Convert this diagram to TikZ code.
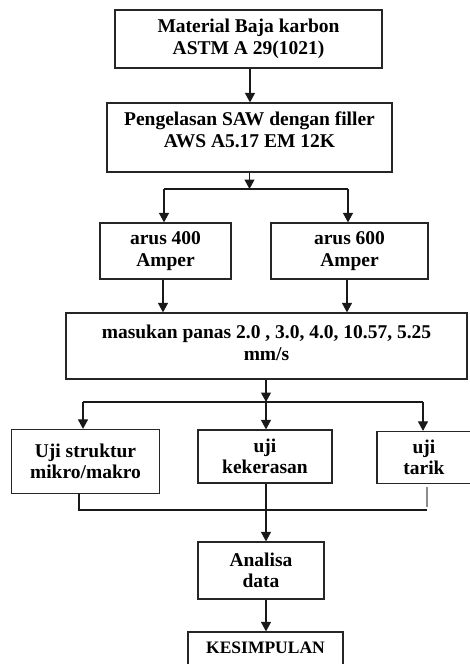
\documentclass[tikz,border=0pt]{standalone}
\usepackage{fontspec}
\setmainfont{Liberation Serif}
\usetikzlibrary{arrows.meta}
\begin{document}
\begin{tikzpicture}[x=1pt,y=-1pt,
  box/.style={draw=black!85,line width=1.2pt,inner sep=0pt,align=center,
    font=\fontsize{19.5}{21.5}\selectfont\bfseries},
  txt/.style={inner sep=0pt,align=center,font=\fontsize{19.5}{21.5}\selectfont\bfseries},
  conn/.style={draw=black!90,line width=1.1pt},
  arr/.style={conn,-{Triangle[length=9.5pt,width=10pt]}}]
\useasboundingbox (0,0) rectangle (470,664);
\clip (0,0) rectangle (470,664);
% boxes
\node[box,minimum width=267,minimum height=58] (b1) at (248.5,39) {Material Baja karbon\\ASTM A 29(1021)};
\node[box,minimum width=285,minimum height=69] (b2) at (249.5,137.5) {};
\node[txt] (t2) at (249.5,130) {Pengelasan SAW dengan filler\\AWS A5.17 EM 12K};
\node[box,minimum width=131,minimum height=56] (a4) at (165.5,251) {arus 400\\Amper};
\node[box,minimum width=157,minimum height=56] (a6) at (349.5,251) {arus 600\\Amper};
\node[box,minimum width=401,minimum height=66] (mp) at (266.5,346) {};
\node[txt] (tmp) at (266.5,343) {masukan panas 2.0 , 3.0, 4.0, 10.57, 5.25\\mm/s};
\node[box,minimum width=148,minimum height=64] (us) at (85.5,461.5) {Uji struktur\\mikro/makro};
\node[box,minimum width=134,minimum height=53] (uk) at (265,456.5) {uji\\kekerasan};
\node[box,minimum width=94,minimum height=52] (ut) at (424,457.5) {uji\\tarik};
\node[box,minimum width=126,minimum height=57] (an) at (261,570.5) {Analisa\\data};
\node[box,minimum width=155,minimum height=44] (ks) at (265.5,654) {};
\node[txt,font=\fontsize{17.5}{19}\selectfont\bfseries] (tks) at (265.5,647.5) {KESIMPULAN};
% junction coordinates
\coordinate (j1) at (249.5,189);
\coordinate (j1l) at (164,189);
\coordinate (j1r) at (348,189);
\coordinate (j2) at (266,402);
\coordinate (j2l) at (83,402);
\coordinate (j2r) at (423,402);
\coordinate (j3l) at (79,510);
\coordinate (j3r) at (427,510);
\coordinate (g1) at (427,487);
\coordinate (g2) at (427,507);
% connectors
\draw[arr] (b1.south -| 250,0) -- (b2.north -| 250,0);
\draw[arr] (b2.south -| j1) -- (j1);
\draw[conn] (j1l) -- (j1r);
\draw[arr] (j1l) -- (a4.north -| j1l);
\draw[arr] (j1r) -- (a6.north -| j1r);
\draw[arr] (a4.south -| 163,0) -- (mp.north -| 163,0);
\draw[arr] (a6.south -| 347,0) -- (mp.north -| 347,0);
\draw[arr] (mp.south -| j2) -- (j2);
\draw[conn] (j2l) -- (j2r);
\draw[arr] (j2l) -- (us.north -| j2l);
\draw[arr] (j2) -- (uk.north -| j2);
\draw[arr] (j2r) -- (ut.north -| j2r);
\draw[conn] (us.south -| j3l) -- (j3l) -- (j3r);
\draw[draw=black!45,line width=1.4pt] (g1) -- (g2);
\draw[arr] (uk.south -| 266,0) -- (an.north -| 266,0);
\draw[arr] (an.south -| 266,0) -- (ks.north -| 266,0);
\end{tikzpicture}
\end{document}
